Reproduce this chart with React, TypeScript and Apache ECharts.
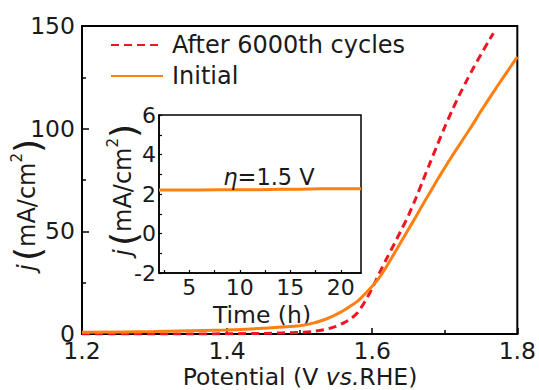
import React, { useEffect, useRef } from "react";
import * as echarts from "echarts";

const FONT = "DejaVu Sans";
const TEXT = "#1a1a1a";
const ORANGE = "#ff8010";
const RED = "#ee1622";

// Main chart: potential (V vs. RHE) -> current density j (mA/cm2)
const initialV = [1.2, 1.3, 1.4, 1.45, 1.5, 1.52, 1.54, 1.55, 1.56, 1.57, 1.58, 1.59, 1.6, 1.61, 1.62, 1.63, 1.64, 1.65, 1.66, 1.67, 1.68, 1.69, 1.7, 1.71, 1.72, 1.73, 1.74, 1.748, 1.76, 1.77, 1.78, 1.79, 1.8];
const initialJ = [0.8, 1.2, 2.0, 2.8, 4.0, 5.4, 7.8, 9.4, 11.3, 13.6, 16.0, 19.5, 23.3, 27.6, 33.0, 39.0, 45.0, 51.0, 57.0, 63.2, 69.2, 75.2, 81.0, 86.6, 92.0, 97.4, 102.8, 107.5, 114.0, 119.4, 124.6, 129.8, 135.0];

const afterV = [1.2, 1.35, 1.45, 1.5, 1.52, 1.54, 1.55, 1.56, 1.57, 1.58, 1.59, 1.6, 1.61, 1.62, 1.63, 1.64, 1.65, 1.66, 1.67, 1.68, 1.69, 1.7, 1.71, 1.72, 1.73, 1.74, 1.75, 1.76, 1.767];
const afterJ = [0.0, 0.0, 0.3, 0.8, 1.3, 2.6, 3.7, 5.3, 7.3, 10.5, 15.8, 22.3, 29.8, 36.8, 43.6, 50.6, 57.8, 66.0, 74.8, 83.6, 92.3, 100.8, 108.8, 116.3, 123.3, 129.9, 136.2, 142.3, 146.5];

// Inset: stability at eta = 1.5 V
const timeH = [2, 4, 6, 8, 10, 12, 14, 16, 18, 20, 22];
const stabilityJ = [2.2, 2.2, 2.2, 2.21, 2.21, 2.22, 2.24, 2.24, 2.26, 2.26, 2.27];

const mainXTicks = [1.2, 1.4, 1.6, 1.8];
const insetXLabels = [5, 10, 15, 20];
const insetXTicks = [2.5, 5, 7.5, 10, 12.5, 15, 17.5, 20];

const zip = (a: number[], b: number[]) => a.map((v, i) => [v, b[i]]);

const yTitleRich = {
  i: { fontStyle: "italic", fontSize: 24, fontFamily: FONT, fill: TEXT },
  p: { fontSize: 36, fontFamily: FONT, fill: TEXT },
  t: { fontSize: 24, fontFamily: FONT, fill: TEXT },
  s: { fontSize: 15, fontFamily: FONT, fill: TEXT, verticalAlign: "top", padding: [0, 0, 12, 0] },
};

export default function App() {
  const ref = useRef<HTMLDivElement>(null);
  useEffect(() => {
    if (!ref.current) return;
    const chart = echarts.init(ref.current, null, { renderer: "svg" });
    const labelStyle = { color: TEXT, fontFamily: FONT, fontSize: 23.5, lineHeight: 16 };
    const insetLabelStyle = { color: TEXT, fontFamily: FONT, fontSize: 22, lineHeight: 18 };
    const axisLine = { show: true, onZero: false, lineStyle: { color: "#000", width: 2 } };
    chart.setOption({
      animation: false,
      backgroundColor: "#fff",
      grid: [
        { left: 82, top: 26, width: 436, height: 308, show: true, borderColor: "#000", borderWidth: 2, backgroundColor: "transparent" },
        { left: 159, top: 115, width: 202, height: 158, show: true, borderColor: "#000", borderWidth: 1.5, backgroundColor: "#fff" },
      ],
      legend: {
        left: 105,
        top: 28,
        orient: "vertical",
        itemWidth: 52,
        itemHeight: 14,
        itemGap: 7,
        itemStyle: { opacity: 0 },
        textStyle: { color: TEXT, fontFamily: FONT, fontSize: 24, lineHeight: 24, padding: [0, 0, 0, 4] },
        data: ["After 6000th cycles", "Initial"],
      },
      xAxis: [
        {
          type: "value",
          gridIndex: 0,
          min: 1.2,
          max: 1.8,
          interval: 0.2,
          axisLine,
          splitLine: { show: false },
          axisTick: { show: true, inside: true, length: 6, lineStyle: { color: "#000", width: 1.5 }, customValues: mainXTicks },
          minorTick: { show: true, splitNumber: 2, length: 4, lineStyle: { color: "#000", width: 1.5 } },
          axisLabel: { ...labelStyle, margin: 9, customValues: mainXTicks, formatter: (v: number) => v.toFixed(1) },
        },
        {
          type: "value",
          gridIndex: 1,
          min: 2,
          max: 22,
          axisLine: { show: true, onZero: false, lineStyle: { color: "#000", width: 1.5 } },
          splitLine: { show: false },
          axisTick: { show: true, inside: true, length: 3, lineStyle: { color: "#000", width: 1.2 }, customValues: insetXTicks },
          axisLabel: { ...insetLabelStyle, margin: 5, customValues: insetXLabels },
        },
      ],
      yAxis: [
        {
          type: "value",
          gridIndex: 0,
          min: 0,
          max: 150,
          interval: 50,
          axisLine,
          splitLine: { show: false },
          axisTick: { show: true, inside: true, length: 7, lineStyle: { color: "#000", width: 1.5 } },
          minorTick: { show: true, splitNumber: 2, length: 4, lineStyle: { color: "#000", width: 1.5 } },
          axisLabel: { ...labelStyle, margin: 7 },
        },
        {
          type: "value",
          gridIndex: 1,
          min: -2,
          max: 6,
          interval: 2,
          axisLine: { show: true, onZero: false, lineStyle: { color: "#000", width: 1.5 } },
          splitLine: { show: false },
          axisTick: { show: true, inside: true, length: 3, lineStyle: { color: "#000", width: 1.2 } },
          minorTick: { show: true, splitNumber: 2, length: 3, lineStyle: { color: "#000", width: 1.2 } },
          axisLabel: { ...insetLabelStyle, margin: 3 },
        },
      ],
      series: [
        {
          name: "After 6000th cycles",
          type: "line",
          xAxisIndex: 0,
          yAxisIndex: 0,
          data: zip(afterV, afterJ),
          symbol: "none",
          smooth: 0.3,
          lineStyle: { color: RED, width: 3, type: [8, 5] },
          itemStyle: { color: RED },
        },
        {
          name: "Initial",
          type: "line",
          xAxisIndex: 0,
          yAxisIndex: 0,
          data: zip(initialV, initialJ),
          symbol: "none",
          smooth: 0.3,
          lineStyle: { color: ORANGE, width: 3 },
          itemStyle: { color: ORANGE },
        },
        {
          name: "Stability",
          type: "line",
          xAxisIndex: 1,
          yAxisIndex: 1,
          data: zip(timeH, stabilityJ),
          symbol: "none",
          lineStyle: { color: ORANGE, width: 3 },
          itemStyle: { color: ORANGE },
        },
      ],
      graphic: [
        {
          type: "text",
          x: 300,
          y: 377,
          style: {
            text: "Potential (V {i|vs.}RHE)",
            fill: TEXT,
            font: `23.5px "${FONT}"`,
            align: "center",
            verticalAlign: "middle",
            rich: { i: { fontStyle: "italic", fontSize: 23.5, fontFamily: FONT, fill: TEXT } },
          },
        },
        {
          type: "text",
          x: 27,
          y: 205,
          rotation: Math.PI / 2,
          style: {
            text: "{i|j} {p|(}{t|mA/cm}{s|2}{p|)}",
            fill: TEXT,
            align: "center",
            verticalAlign: "middle",
            rich: yTitleRich,
          },
        },
        {
          type: "text",
          x: 123,
          y: 190,
          rotation: Math.PI / 2,
          style: {
            text: "{i|j} {p|(}{t|mA/cm}{s|2}{p|)}",
            fill: TEXT,
            align: "center",
            verticalAlign: "middle",
            rich: yTitleRich,
          },
        },
        {
          type: "text",
          x: 262,
          y: 315,
          style: {
            text: "Time (h)",
            fill: TEXT,
            font: `23.5px "${FONT}"`,
            align: "center",
            verticalAlign: "middle",
          },
        },
        {
          type: "text",
          x: 269,
          y: 177,
          z: 10,
          style: {
            text: "{i|η}=1.5 V",
            fill: TEXT,
            font: `22.5px "${FONT}"`,
            align: "center",
            verticalAlign: "middle",
            rich: { i: { fontStyle: "italic", fontSize: 22.5, fontFamily: FONT, fill: TEXT } },
          },
        },
      ],
    });
    return () => chart.dispose();
  }, []);
  return <div ref={ref} style={{ width: 539, height: 390, position: "absolute", left: 0, top: 0 }} />;
}
